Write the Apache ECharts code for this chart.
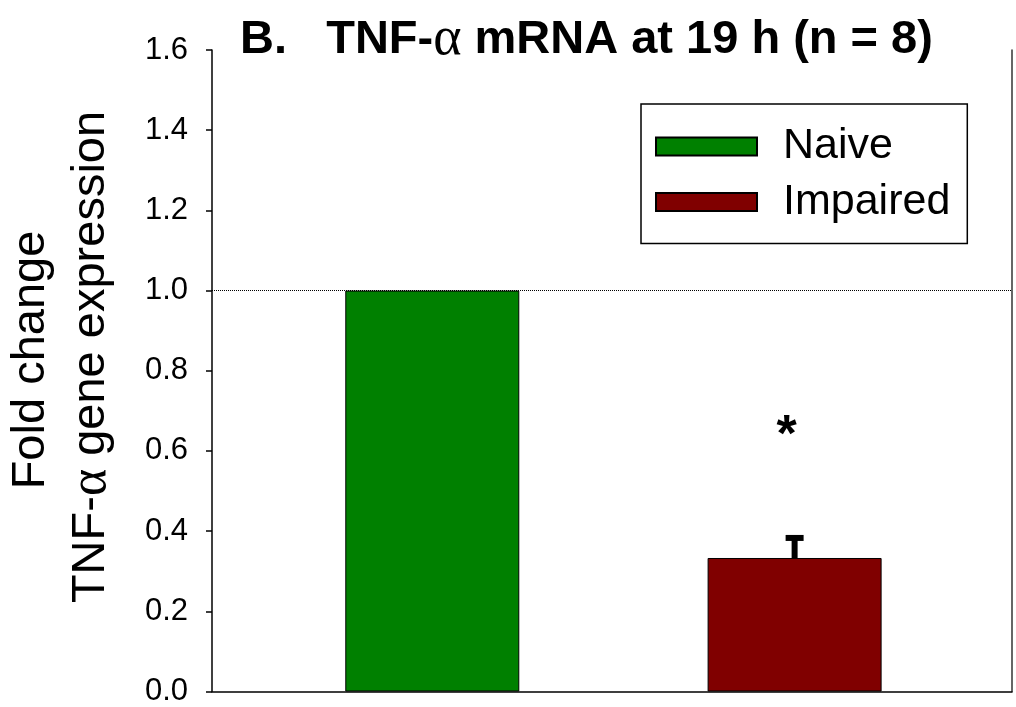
<!DOCTYPE html>
<html>
<head>
<meta charset="utf-8">
<script src="https://cdn.jsdelivr.net/npm/echarts@6/dist/echarts.min.js"></script>
<style>
html,body{margin:0;padding:0;background:#fff;}
#chart{width:1016px;height:707px;}
</style>
</head>
<body>
<div id="chart"></div>
<script>
// ---- data ----
const categories = ['Naive', 'Impaired'];
const xPositions = [1, 2];
const values = [1.0, 0.333];
const errors = [0, 0.05];
const barColors = ['#008000', '#800000'];
const yMin = 0, yMax = 1.6, yInterval = 0.2;
const referenceLine = 1.0;
const sigX = [2];
const sigY = [0.635];
const sigText = ['*'];
const titleText = 'B.   TNF-{a|α} mRNA at 19 h (n = 8)';
const yTitleLine1 = 'Fold change';
const yTitleLine2 = 'TNF-{a|α} gene expression';

const SANS = "'Liberation Sans', Arial, Helvetica, sans-serif";
const SERIF = "'Liberation Serif', 'Times New Roman', serif";

const chart = echarts.init(document.getElementById('chart'), null, {renderer: 'canvas'});

const barSeries = categories.map((name, i) => ({
  name: name,
  type: 'bar',
  data: [[xPositions[i], values[i]]],
  barWidth: 174,
  barGap: '-100%',
  itemStyle: {color: barColors[i], borderColor: '#000', borderWidth: 1},
  z: 2,
  markLine: i === 0 ? {
    silent: true,
    symbol: ['none', 'none'],
    label: {show: false},
    lineStyle: {type: 'dotted', color: '#000', width: 1},
    data: [{yAxis: referenceLine}],
    z: 5
  } : undefined
}));

const errData = xPositions.map((x, i) => [x, values[i], errors[i]]).filter(d => d[2] > 0);

const option = {
  animation: false,
  backgroundColor: '#fff',
  title: {
    text: titleText,
    left: 240,
    top: 13,
    padding: 0,
    textStyle: {
      fontFamily: SANS, fontSize: 47, fontWeight: 'bold', color: '#000',
      rich: {a: {fontFamily: SERIF, fontSize: 54, fontWeight: 'normal', color: '#000'}}
    }
  },
  legend: {
    data: categories,
    orient: 'vertical',
    left: 641,
    top: 104,
    icon: 'rect',
    itemWidth: 101,
    itemHeight: 18,
    itemGap: 12.5,
    padding: [21, 17, 20, 14],
    borderColor: '#000',
    borderWidth: 1.5,
    borderRadius: 0,
    textStyle: {fontFamily: SANS, fontSize: 43, lineHeight: 43, color: '#000', padding: [0, 0, 0, 21]}
  },
  grid: {left: 212, right: 4, top: 50, bottom: 14, containLabel: false},
  xAxis: {
    type: 'value',
    min: 0.392, max: 2.6,
    axisLine: {show: true, onZero: false, lineStyle: {color: '#000', width: 1.5}},
    axisTick: {show: false},
    axisLabel: {show: false},
    splitLine: {show: false}
  },
  yAxis: [{
    type: 'value',
    min: yMin, max: yMax, interval: yInterval,
    position: 'left',
    axisLine: {show: true, lineStyle: {color: '#000', width: 1.5}},
    axisTick: {show: true, inside: false, length: 6, lineStyle: {color: '#000', width: 1.5}},
    axisLabel: {
      margin: 24, fontFamily: SANS, fontSize: 31, color: '#000',
      formatter: v => v.toFixed(1)
    },
    splitLine: {show: false}
  }, {
    type: 'value',
    min: yMin, max: yMax,
    position: 'right',
    axisLine: {show: true, lineStyle: {color: '#333', width: 1.5}},
    axisTick: {show: false},
    axisLabel: {show: false},
    splitLine: {show: false}
  }],
  series: [
    ...barSeries,
    {
      name: 'error',
      type: 'custom',
      data: errData,
      z: 3,
      renderItem: function (params, api) {
        const x = api.value(0), y = api.value(1), e = api.value(2);
        const base = api.coord([x, y]);
        const top = api.coord([x, y + e]);
        return {
          type: 'group',
          children: [
            {type: 'rect', shape: {x: top[0] - 3, y: top[1], width: 6, height: base[1] - top[1]}, style: {fill: '#000'}},
            {type: 'rect', shape: {x: top[0] - 9, y: top[1] - 3, width: 18, height: 6}, style: {fill: '#000'}}
          ]
        };
      }
    },
    {
      name: 'sig',
      type: 'custom',
      data: sigX.map((x, i) => [x, sigY[i], i]),
      z: 4,
      renderItem: function (params, api) {
        const p = api.coord([api.value(0), api.value(1)]);
        return {
          type: 'text',
          x: p[0] - 8, y: p[1],
          style: {text: sigText[api.value(2)], fontFamily: SANS, fontSize: 52, fontWeight: 'bold', fill: '#000', align: 'center', verticalAlign: 'middle'}
        };
      }
    }
  ],
  graphic: [
    {
      type: 'text', x: 31, y: 360, rotation: Math.PI / 2,
      style: {text: yTitleLine1, fontFamily: SANS, fontSize: 47, fill: '#000', align: 'center', verticalAlign: 'middle'}
    },
    {
      type: 'text', x: 91, y: 357, rotation: Math.PI / 2,
      style: {
        text: yTitleLine2, fontFamily: SANS, fontSize: 47, fill: '#000', align: 'center', verticalAlign: 'middle',
        rich: {a: {fontFamily: SERIF, fontSize: 52, fill: '#000'}}
      }
    }
  ]
};
chart.setOption(option);
</script>
</body>
</html>
